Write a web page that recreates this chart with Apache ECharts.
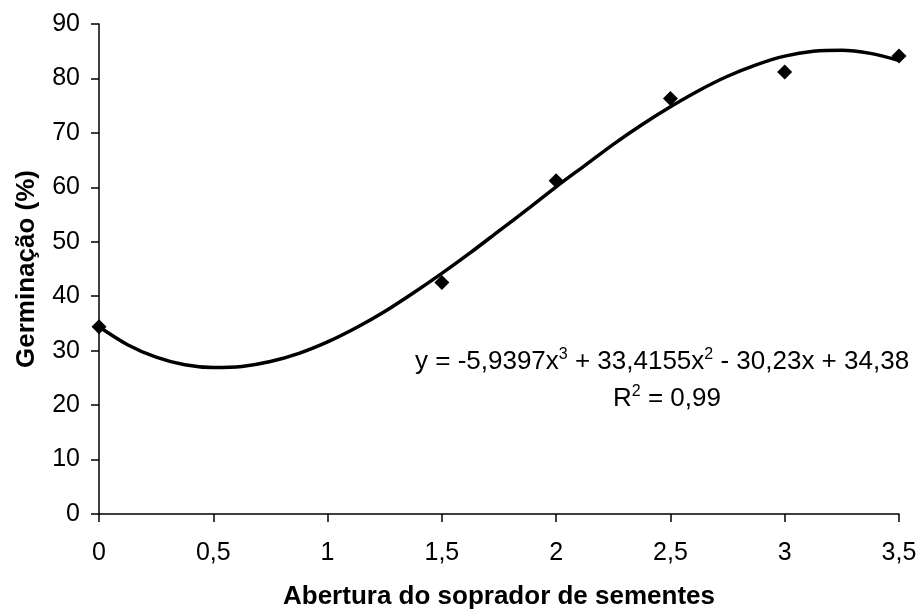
<!DOCTYPE html>
<html>
<head>
<meta charset="utf-8">
<script src="https://cdn.jsdelivr.net/npm/echarts@6/dist/echarts.min.js"></script>
<style>html,body{margin:0;padding:0;background:#fff;}#c{width:922px;height:609px;}</style>
</head>
<body>
<div id="c"></div>
<script>
// Observed points
var obsX = [0, 1.5, 2, 2.5, 3, 3.5];
var obsY = [34.4, 42.5, 61.2, 76.3, 81.2, 84.1];
// Trend line
var trendX = [0, 0.125, 0.25, 0.375, 0.5, 0.625, 0.75, 0.875, 1, 1.125, 1.25, 1.375, 1.5, 1.625, 1.75, 1.875, 2, 2.125, 2.25, 2.375, 2.5, 2.625, 2.75, 2.875, 3, 3.125, 3.25, 3.375, 3.5];
var trendY = [34.4, 31.1, 28.8, 27.4, 26.9, 27.1, 28.0, 29.5, 31.6, 34.2, 37.2, 40.6, 44.2, 48.0, 52.0, 56.0, 60.1, 64.0, 67.9, 71.5, 74.8, 77.8, 80.4, 82.5, 84.1, 85.0, 85.2, 84.6, 83.3];
var xTicks = [0, 0.5, 1, 1.5, 2, 2.5, 3, 3.5];
var yTicks = [0, 10, 20, 30, 40, 50, 60, 70, 80, 90];
var xTitle = 'Abertura do soprador de sementes';
var yTitle = 'Germinação (%)';

function zip(a, b) { return a.map(function (v, i) { return [v, b[i]]; }); }
function fmt(v) { return String(v).replace('.', ','); }

var font = 'Arial, "Liberation Sans", sans-serif';
var chart = echarts.init(document.getElementById('c'), null, { renderer: 'canvas' });
chart.setOption({
  animation: false,
  backgroundColor: '#fff',
  grid: { left: 99, right: 23, top: 24, bottom: 95, containLabel: false, outerBoundsMode: 'none' },
  xAxis: {
    type: 'value', min: 0, max: 3.5, interval: 0.5,
    name: xTitle, nameLocation: 'middle', nameGap: 70,
    nameTextStyle: { fontFamily: font, fontWeight: 'bold', fontSize: 26, color: '#000' },
    axisLine: { show: true, lineStyle: { color: '#000', width: 1.5 } },
    axisTick: { show: true, inside: false, length: 8, lineStyle: { color: '#000', width: 1.5 } },
    axisLabel: { fontFamily: font, fontSize: 25, color: '#000', margin: 27, formatter: fmt },
    splitLine: { show: false }
  },
  yAxis: {
    type: 'value', min: 0, max: 90, interval: 10,
    name: yTitle, nameLocation: 'middle', nameGap: 59,
    nameTextStyle: { fontFamily: font, fontWeight: 'bold', fontSize: 26, color: '#000' },
    axisLine: { show: true, lineStyle: { color: '#000', width: 1.5 } },
    axisTick: { show: true, inside: false, length: 8, lineStyle: { color: '#000', width: 1.5 } },
    axisLabel: { fontFamily: font, fontSize: 25, color: '#000', margin: 19 },
    splitLine: { show: false }
  },
  series: [
    {
      type: 'line', data: zip(trendX, trendY), smooth: 0.3, symbol: 'none',
      lineStyle: { color: '#000', width: 3.5 }, z: 2
    },
    {
      type: 'scatter', data: zip(obsX, obsY), symbol: 'diamond', symbolSize: 15,
      itemStyle: { color: '#000', opacity: 1 }, z: 3
    }
  ],
  graphic: [
    {
      type: 'text', left: 415, top: 347,
      style: {
        text: 'y = -5,9397x{s|3} + 33,4155x{s|2} - 30,23x + 34,38',
        font: '26px ' + font, fill: '#000',
        rich: { s: { fontSize: 16, fontFamily: font, fill: '#000', padding: [0, 0, 13, 0] } }
      }
    },
    {
      type: 'text', left: 613, top: 384,
      style: {
        text: 'R{s|2} = 0,99',
        font: '26px ' + font, fill: '#000',
        rich: { s: { fontSize: 16, fontFamily: font, fill: '#000', padding: [0, 0, 13, 0] } }
      }
    }
  ]
});
</script>
</body>
</html>
